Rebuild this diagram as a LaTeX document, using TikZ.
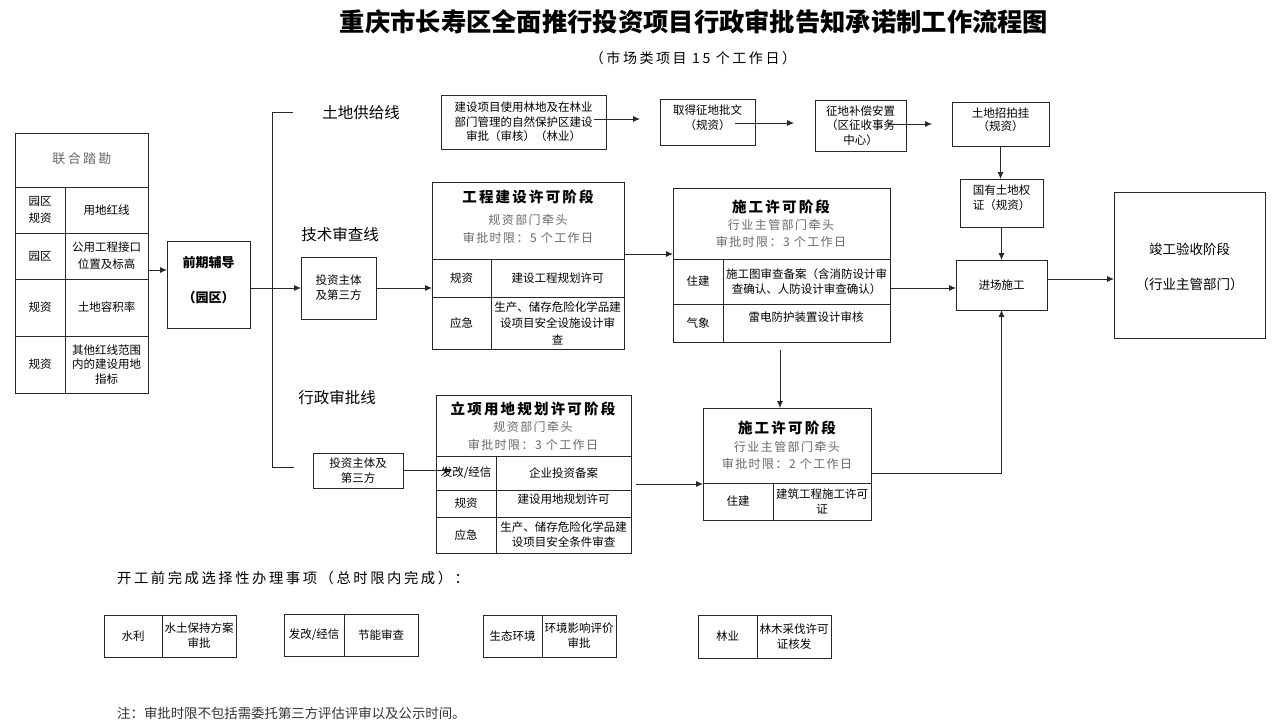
\documentclass[tikz,border=0pt]{standalone}
\usepackage{fontspec}
\setmainfont{Noto Sans CJK SC}
\newfontfamily\hdfont{Noto Sans CJK SC}[LetterSpace=15]
\newfontfamily\grfont{Noto Sans CJK SC}[LetterSpace=12]
\newfontfamily\wdfont{Noto Sans CJK SC}[LetterSpace=18]
\usetikzlibrary{arrows.meta}
\definecolor{lncol}{RGB}{40,40,40}
\definecolor{gtx}{RGB}{105,105,105}
\newcommand\cellat[7][]{\pgfmathsetmacro\cw{#5-#3}\pgfmathsetmacro\ch{#6-#4}%
  \node[cell,#1,minimum width=\cw pt,minimum height=\ch pt,anchor=north west] (#2) at (#3,#4) {#7};}
\begin{document}
\begin{tikzpicture}[x=1pt,y=-1pt,
  cell/.style={draw=lncol, line width=0.9pt, inner sep=0pt, outer sep=0pt, align=center, font=\fontsize{11.5}{15}\selectfont},
  arr/.style={draw=lncol, line width=0.8pt, -{Latex[length=7pt,width=6pt]}},
  cn/.style={draw=lncol, line width=0.8pt},
  hd/.style={inner sep=0pt, font=\hdfont\bfseries\fontsize{14.5}{16}\selectfont},
  gr/.style={inner sep=0pt, text=gtx, font=\grfont\fontsize{12}{14}\selectfont},
  lbl/.style={inner sep=0pt, font=\fontsize{15.5}{18}\selectfont},
  txt/.style={inner sep=0pt, align=center, font=\fontsize{11.5}{15}\selectfont}]
\useasboundingbox (0,0) rectangle (1276,723);
\fill[white] (0,0) rectangle (1276,723);

% title
\node[inner sep=0pt, font=\bfseries\fontsize{25.3}{30}\selectfont] (title) at (694,21.5) {重庆市长寿区全面推行投资项目行政审批告知承诺制工作流程图};
\node[inner sep=0pt, font=\wdfont\fontsize{14}{16}\selectfont] (sub) at (693,58) {（市场类项目 15 个工作日）};

% left table
\cellat{lt}{15}{133}{148}{187}{}
\node[inner sep=0pt, text=gtx, font=\wdfont\fontsize{13}{15}\selectfont] (ltt) at (82,159) {联合踏勘};
\cellat[font=\fontsize{11.5}{16.5}\selectfont]{la1}{15}{187}{65}{233}{园区\\规资}
\cellat{lb1}{65}{187}{148}{233}{用地红线}
\cellat{la2}{15}{233}{65}{279}{园区}
\cellat[font=\fontsize{11.5}{17}\selectfont]{lb2}{65}{233}{148}{279}{公用工程接口\\位置及标高}
\cellat{la3}{15}{279}{65}{336}{规资}
\cellat{lb3}{65}{279}{148}{336}{土地容积率}
\cellat{la4}{15}{336}{65}{393}{规资}
\cellat[font=\fontsize{11.5}{14.3}\selectfont]{lb4}{65}{336}{148}{393}{其他红线范围\\内的建设用地\\指标}

% 前期辅导
\cellat{qq}{167}{241}{250}{328}{}
\node[txt, font=\bfseries\fontsize{13}{35}\selectfont] (qqt) at (208.5,280.5) {前期辅导\\（园区）};
\coordinate (ltout) at (148,270);
\draw[arr] (ltout) -- (ltout -| qq.west);

% bracket and line labels
\coordinate (brT) at (293,112.7);
\coordinate (brB) at (294,467);
\draw[cn] (brT) -- (272.7,112.7) |- (brB);
\node[lbl] (l1) at (361,113) {土地供给线};
\node[lbl] (l2) at (340,235) {技术审查线};
\node[lbl] (l3) at (337,398) {行政审批线};

% tech line
\cellat{inv1}{301}{257}{376}{319}{投资主体\\及第三方}
\draw[arr] (qq.east |- inv1.west) -- (inv1.west);

\cellat{gc}{432}{182}{624}{349}{}
\node[hd] (gct) at (528,197) {工程建设许可阶段};
\node[gr] (gcg1) at (528,220) {规资部门牵头};
\node[gr] (gcg2) at (528,238) {审批时限：5 个工作日};
\cellat{gc1a}{432}{259}{491}{297}{规资}
\cellat{gc1b}{491}{259}{624}{297}{建设工程规划许可}
\cellat{gc2a}{432}{297}{491}{349}{应急}
\cellat[font=\fontsize{11.5}{16.5}\selectfont]{gc2b}{491}{297}{624}{349}{生产、储存危险化学品建\\设项目安全设施设计审\\查}
\draw[arr] (inv1.east) -- (inv1.east -| gc.west);

\cellat{sg1}{673}{188}{890}{342}{}
\node[hd] (s1t) at (781,207) {施工许可阶段};
\node[gr] (s1g1) at (781,225) {行业主管部门牵头};
\node[gr] (s1g2) at (781,242) {审批时限：3 个工作日};
\cellat{s1a}{673}{259}{723}{304}{住建}
\cellat{s1b}{723}{259}{890}{304}{施工图审查备案（含消防设计审\\查确认、人防设计审查确认）}
\cellat{s2a}{673}{304}{723}{342}{气象}
\cellat{s2b}{723}{304}{890}{342}{}
\node[txt] (s2bt) at (806,317) {雷电防护装置设计审核};
\coordinate (gcout) at (624,254);
\draw[arr] (gcout) -- (gcout -| sg1.west);

% right column
\cellat{jc}{956}{260}{1047}{310}{进场施工}
\draw[arr] (sg1.east |- 0,288) -- (jc.west |- 0,288);

\cellat{jy}{1114}{192}{1265}{338}{}
\node[txt, font=\fontsize{13.5}{35}\selectfont] (jyt) at (1189.5,266.8) {竣工验收阶段\\（行业主管部门）};
\coordinate (jcout) at (1047,279);
\draw[arr] (jcout) -- (jcout -| jy.west);

% land supply line
\cellat[font=\fontsize{11.5}{14.5}\selectfont]{b1}{441}{95}{606}{149}{建设项目使用林地及在林业\\部门管理的自然保护区建设\\审批（审核）（林业）}
\cellat{b2}{660}{99}{755}{145}{}
\node[txt, font=\fontsize{11.5}{14.8}\selectfont] (b2t) at (707.5,118) {取得征地批文\\（规资）};
\cellat[font=\fontsize{11.5}{14.7}\selectfont]{b3}{815}{100}{906}{151}{征地补偿安置\\（区征收事务\\中心）}
\cellat{b4}{952}{102}{1049}{146}{}
\node[txt, font=\fontsize{11.5}{13}\selectfont] (b4t) at (1000.5,120) {土地招拍挂\\（规资）};
\cellat{b5}{960}{179}{1043}{227}{}
\node[txt] (b5t) at (1001.5,197.5) {国有土地权\\证（规资）};

\coordinate (t1s) at (594,119); \coordinate (t1e) at (640,119);
\draw[arr] (t1s) -- (t1e);
\coordinate (t2s) at (735,123); \coordinate (t2e) at (794,123);
\draw[arr] (t2s) -- (t2e);
\coordinate (t3s) at (888,124); \coordinate (t3e) at (932,124);
\draw[arr] (t3s) -- (t3e);
\draw[arr] (b4.south) -- (b4.south |- b5.north);
\draw[arr] (b5.south) -- (b5.south |- jc.north);

% admin line
\cellat{inv2}{313}{453}{403}{488}{投资主体及\\第三方}
\coordinate (inv2end) at (452,470.5);
\draw[arr] (inv2.east) -- (inv2end);

\cellat{lx}{436}{395}{631}{553}{}
\node[hd] (lxt) at (533,409) {立项用地规划许可阶段};
\node[gr] (lxg1) at (533,427) {规资部门牵头};
\node[gr] (lxg2) at (533,445) {审批时限：3 个工作日};
\cellat{l1a}{436}{456}{496}{490}{发改/经信}
\cellat{l1b}{496}{456}{631}{490}{企业投资备案}
\cellat{l2a}{436}{490}{496}{517}{规资}
\cellat{l2b}{496}{490}{631}{517}{}
\node[txt] (l2bt) at (563.5,499) {建设用地规划许可};
\cellat{l3a}{436}{517}{496}{553}{应急}
\cellat{l3b}{496}{517}{631}{553}{生产、储存危险化学品建\\设项目安全条件审查}

\cellat{sg2}{703}{408}{871}{520}{}
\node[hd] (s3t) at (787,428) {施工许可阶段};
\node[gr] (s3g1) at (787,447) {行业主管部门牵头};
\node[gr] (s3g2) at (787,464) {审批时限：2 个工作日};
\cellat{s3a}{703}{483}{773}{520}{住建}
\cellat{s3b}{773}{483}{871}{520}{建筑工程施工许可\\证}

\coordinate (lxout) at (636,484);
\draw[arr] (lxout) -- (lxout -| sg2.west);
\coordinate (sgdown) at (780,350);
\draw[arr] (sgdown) -- (sgdown |- sg2.north);
\coordinate (sg2out) at (871,473);
\draw[arr] (sg2out) -| (jc.south);

% optional items
\node[anchor=west, inner sep=0pt, font=\wdfont\fontsize{14.3}{16}\selectfont] (opt) at (117,578) {开工前完成选择性办理事项（总时限内完成）：};
\cellat{w1a}{104}{615}{162}{657}{水利}
\cellat{w1b}{162}{615}{236}{657}{水土保持方案\\审批}
\cellat{w2a}{284}{614}{344}{656}{发改/经信}
\cellat{w2b}{344}{614}{418}{656}{节能审查}
\cellat{w3a}{483}{615}{542}{657}{生态环境}
\cellat{w3b}{542}{615}{616}{657}{环境影响评价\\审批}
\cellat{w4a}{698}{615}{757}{658}{林业}
\cellat{w4b}{757}{615}{831}{658}{林木采伐许可\\证核发}

\node[anchor=west, inner sep=0pt, text=black!80, font=\fontsize{13.4}{15}\selectfont] (note) at (117,713) {注：审批时限不包括需委托第三方评估评审以及公示时间。};
\end{tikzpicture}
\end{document}
